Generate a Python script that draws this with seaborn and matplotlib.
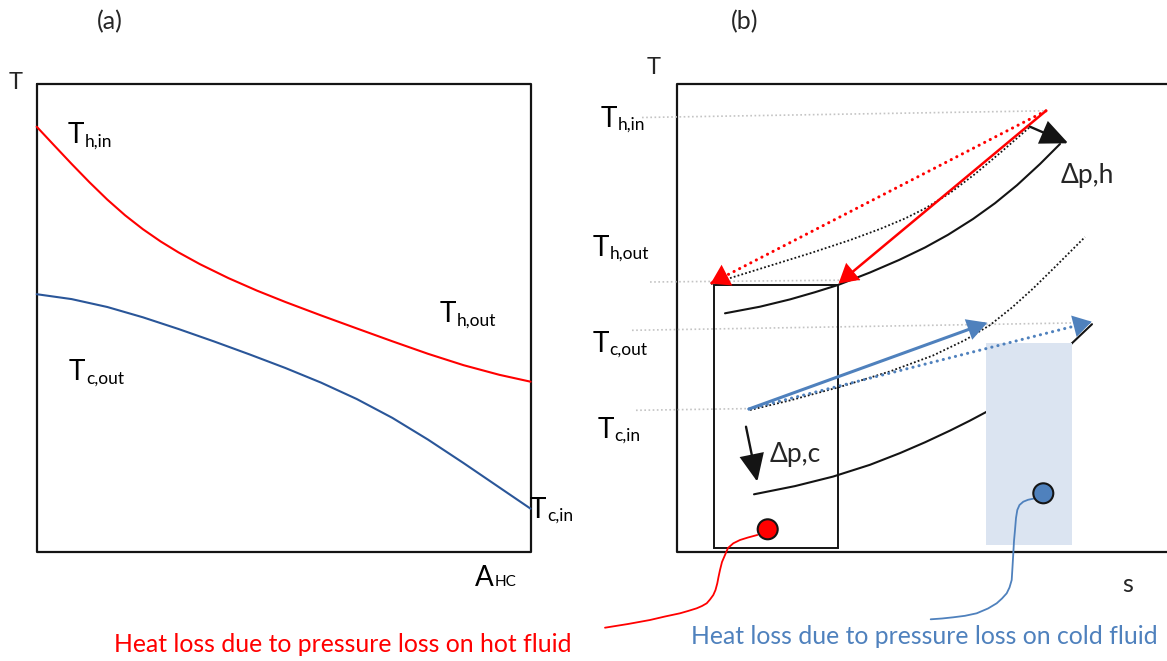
import matplotlib
matplotlib.use("Agg")
import matplotlib.pyplot as plt
from matplotlib.patches import Rectangle, Circle
import numpy as np
import pandas as pd
import seaborn as sns

W, H = 1167, 661

# ---------------- panel (a): T over heat-exchanger area ----------------
FRAME_A_X = [36.7, 530.7, 530.7, 36.7, 36.7]
FRAME_A_Y = [83.5, 83.5, 551.5, 551.5, 83.5]

HOT_A_X = [36.7, 53.8, 71.6, 89.4, 107.3, 125.1, 142.9, 160.7, 178.5, 200.0,
           228.4, 256.9, 285.4, 321.0, 356.7, 392.4, 428.0, 463.6, 499.3, 530.6]
HOT_A_Y = [126.7, 145.0, 163.9, 182.2, 199.6, 215.3, 229.2, 241.5, 252.4, 264.2,
           278.1, 290.6, 302.0, 315.4, 328.4, 341.3, 353.8, 365.2, 374.8, 381.7]

COLD_A_X = [36.7, 71.6, 107.3, 142.9, 178.5, 214.2, 249.8, 285.4, 321.0, 356.7,
            392.4, 428.0, 463.6, 499.3, 530.6]
COLD_A_Y = [294.2, 299.1, 307.0, 317.3, 329.0, 341.5, 354.5, 368.0, 382.6, 399.0,
            417.9, 439.6, 463.1, 487.4, 508.7]

# ---------------- panel (b): T-s diagram ----------------
FRAME_B_X = [1167, 677, 677, 1167]
FRAME_B_Y = [83.5, 83.5, 551.5, 551.5]

# grey guide lines from the temperature labels
GUIDE_TH_IN_X, GUIDE_TH_IN_Y = [642, 1046], [117.5, 110.8]
GUIDE_TH_OUT_X, GUIDE_TH_OUT_Y = [650, 860], [282.0, 280.0]
GUIDE_TC_OUT_X, GUIDE_TC_OUT_Y = [632, 1088], [330.3, 322.7]
GUIDE_TC_IN_X, GUIDE_TC_IN_Y = [636, 748], [410.3, 408.6]

# hot side: isobar with pressure loss (solid) and ideal isobar (dotted)
HOT_REAL_X = [725, 760, 790, 815, 838, 870, 899, 925, 948, 973, 995, 1017, 1040, 1060]
HOT_REAL_Y = [313.3, 306.7, 299.4, 292.2, 285.0, 272.5, 260.0, 247.5, 234.8, 219.0,
              203.2, 185.2, 164.0, 144.0]
HOT_IDEAL_X = [711, 760, 810, 850, 880, 905, 925, 950, 975, 1000, 1030]
HOT_IDEAL_Y = [284.0, 268.8, 253.3, 240.1, 229.0, 218.5, 208.5, 193.0, 174.0, 153.0, 126.9]

# cold side: isobar with pressure loss (solid) and ideal isobar (dotted)
COLD_REAL_X = [754, 795, 833, 870, 900, 925, 950, 970, 986, 1010, 1035, 1055, 1070, 1092]
COLD_REAL_Y = [494.3, 486.1, 476.6, 464.8, 453.1, 442.3, 430.6, 420.6, 412.1, 396.5,
               376.5, 358.9, 345.1, 324.2]
COLD_IDEAL_X = [750, 790, 840, 890, 933, 965, 990, 1012, 1033, 1055, 1070, 1085]
COLD_IDEAL_Y = [410.0, 400.4, 386.9, 371.4, 355.5, 340.1, 325.1, 307.5, 288.6, 267.0,
                252.0, 237.0]

# process arrows: (start, tip)
HOT_INLET = (1046, 110.8)
HOT_OUT_IDEAL = (710.7, 283.5)
HOT_OUT_REAL = (838.6, 283.5)
COLD_INLET = (749, 409.0)
COLD_OUT_IDEAL = (987.3, 322.7)
COLD_OUT_REAL = (1091.7, 321.7)
DP_H = ((1030, 126.7), (1068.3, 143.3))
DP_C = ((746, 426.7), (757.3, 481.7))

# loss areas
HOT_LOSS_BOX = (714, 285.0, 837.7, 547.7)
COLD_LOSS_BOX = (986, 342.7, 1072.3, 545.0)
HOT_MARK = (767.7, 529.3)
COLD_MARK = (1043.3, 493.3)
MARK_R = 10

HOT_LEADER_X = [757.3, 748, 740, 733.3, 728, 725, 722, 720, 718.5, 717.3, 715.5, 713.3,
                710, 706.7, 702, 696.7, 688, 680, 665, 650, 628, 605]
HOT_LEADER_Y = [535, 537.5, 540, 543.3, 548, 555, 562, 570, 577, 583.3, 590, 595,
                599.5, 603.3, 606, 608.3, 611, 613.3, 616.5, 620, 624, 627.7]
COLD_LEADER_X = [1035, 1028, 1023.3, 1019.5, 1017.3, 1016, 1015, 1014, 1013.3, 1012.5,
                 1011.7, 1009.5, 1006.7, 1002, 996.7, 988, 976.7, 965, 953.3, 942, 930.7]
COLD_LEADER_Y = [498.3, 499.8, 501.7, 505, 510, 518, 530, 541, 553.3, 567, 580, 587.5,
                 593.3, 598.5, 603.3, 608.5, 613.3, 615.8, 617.3, 618.5, 619.3]

HOT_NOTE = "Heat loss due to pressure loss on hot fluid"
COLD_NOTE = "Heat loss due to pressure loss on cold fluid"

RED = "#ff0000"
DARK_BLUE = "#2a5699"
BLUE = "#4f81bd"
PALE_BLUE = "#dbe4f1"
GREY = "#c4c4c4"
INK = "#141414"

sns.set_theme(style="white")
plt.rcParams["font.family"] = ["Lato", "DejaVu Sans"]

fig = plt.figure(figsize=(W / 100, H / 100), dpi=100)
ax = fig.add_axes([0, 0, 1, 1])


def line(xs, ys, **kw):
    df = pd.DataFrame({"x": xs, "y": ys})
    sns.lineplot(data=df, x="x", y="y", sort=False, estimator=None, ax=ax, **kw)


def arrow(start, tip, color, lw, hl=0.5, hw=0.3, ms=20, z=4):
    ax.annotate("", xy=tip, xytext=start, zorder=z,
                arrowprops=dict(arrowstyle=f"-|>,head_length={hl},head_width={hw}",
                                color=color, lw=lw, joinstyle="miter",
                                shrinkA=0, shrinkB=0, mutation_scale=ms))


def dotted_arrow(start, tip, color, lw, hl=0.5, hw=0.3, ms=20, z=4):
    # dotted shaft with a solid head
    line([start[0], tip[0]], [start[1], tip[1]], color=color, lw=lw,
         linestyle=(0, (0.05, 2.0)), dash_capstyle="round", zorder=z)
    d = np.subtract(tip, start)
    back = np.subtract(tip, d / np.hypot(*d) * 6)
    arrow(tuple(back), tip, color, lw, hl=hl, hw=hw, ms=ms, z=z)


FINE_DOT = (0, (1, 1.2))

# frames
line(FRAME_A_X, FRAME_A_Y, color=INK, lw=1.6)
line(FRAME_B_X, FRAME_B_Y, color=INK, lw=1.6)

# panel (a) curves
line(HOT_A_X, HOT_A_Y, color=RED, lw=1.5)
line(COLD_A_X, COLD_A_Y, color=DARK_BLUE, lw=1.5)

# panel (b) guides
for gx, gy in [(GUIDE_TH_IN_X, GUIDE_TH_IN_Y), (GUIDE_TH_OUT_X, GUIDE_TH_OUT_Y),
               (GUIDE_TC_OUT_X, GUIDE_TC_OUT_Y), (GUIDE_TC_IN_X, GUIDE_TC_IN_Y)]:
    line(gx, gy, color=GREY, lw=1.2, linestyle=(0, (1, 1.5)))

# isobars
line(HOT_IDEAL_X, HOT_IDEAL_Y, color=INK, lw=1.3, linestyle=FINE_DOT)
line(COLD_IDEAL_X, COLD_IDEAL_Y, color=INK, lw=1.3, linestyle=FINE_DOT)
line(HOT_REAL_X, HOT_REAL_Y, color=INK, lw=1.5)
line(COLD_REAL_X, COLD_REAL_Y, color=INK, lw=1.5)

# loss boxes
x0, y0, x1, y1 = COLD_LOSS_BOX
ax.add_patch(Rectangle((x0, y0), x1 - x0, y1 - y0, facecolor=PALE_BLUE,
                       edgecolor="none", zorder=3))
x0, y0, x1, y1 = HOT_LOSS_BOX
ax.add_patch(Rectangle((x0, y0), x1 - x0, y1 - y0, facecolor="none",
                       edgecolor=INK, lw=1.4, zorder=3))

# process arrows
dotted_arrow(HOT_INLET, HOT_OUT_IDEAL, RED, 2.2, hl=0.5, hw=0.32)
arrow(HOT_INLET, HOT_OUT_REAL, RED, 1.8, hl=0.55, hw=0.32)
arrow(COLD_INLET, COLD_OUT_IDEAL, BLUE, 2.2, hl=0.55, hw=0.3)
dotted_arrow(COLD_INLET, COLD_OUT_REAL, BLUE, 2.2, hl=0.5, hw=0.3)
arrow(DP_H[0], DP_H[1], INK, 1.7, hl=0.85, hw=0.38)
arrow(DP_C[0], DP_C[1], INK, 1.7, hl=0.85, hw=0.38)

# loss markers and leaders
line(HOT_LEADER_X, HOT_LEADER_Y, color=RED, lw=1.3, zorder=5)
line(COLD_LEADER_X, COLD_LEADER_Y, color=BLUE, lw=1.3, zorder=5)
ax.add_patch(Circle(HOT_MARK, MARK_R, facecolor=RED, edgecolor=INK, lw=1.5, zorder=6))
ax.add_patch(Circle(COLD_MARK, MARK_R, facecolor=BLUE, edgecolor=INK, lw=1.5, zorder=6))

ax.set_xlim(0, W)
ax.set_ylim(H, 0)
ax.set_aspect("auto")
ax.axis("off")

renderer = fig.canvas.get_renderer()


def sub_label(x, y, main, sub, size=20, sub_size=12.5, drop=3.0, gap=0.5, color="black"):
    t = ax.text(x, y, main, fontsize=size, va="baseline", ha="left", color=color)
    bb = t.get_window_extent(renderer)
    xr = ax.transData.inverted().transform((bb.x1, bb.y0))[0]
    ax.text(xr + gap, y + drop, sub, fontsize=sub_size, va="baseline", ha="left", color=color)


# panel titles and axis names
ax.text(110, 22, "(a)", fontsize=18, ha="center", va="center")
ax.text(745, 22, "(b)", fontsize=18, ha="center", va="center")
ax.text(15.5, 82.5, "T", fontsize=17, ha="center", va="center")
ax.text(654, 67, "T", fontsize=17, ha="center", va="center")
sub_label(475, 586, "A", "HC", size=20, sub_size=11, drop=0.5)
ax.text(1128, 585, "s", fontsize=18, ha="center", va="center")

# panel (a) labels
sub_label(68, 143.3, "T", "h,in")
sub_label(440, 322.3, "T", "h,out")
sub_label(69, 380.2, "T", "c,out")
sub_label(530, 517.7, "T", "c,in")

# panel (b) labels
sub_label(601, 126.7, "T", "h,in")
sub_label(592.7, 255.7, "T", "h,out")
sub_label(592.7, 351.9, "T", "c,out")
sub_label(597.2, 437.7, "T", "c,in")
ax.text(1060.7, 183.3, "Δp,h", fontsize=19, va="baseline", ha="left")
ax.text(769.3, 461.7, "Δp,c", fontsize=19, va="baseline", ha="left")

# notes
ax.text(343, 645, HOT_NOTE, fontsize=17.8, color=RED, ha="center", va="center")
ax.text(924, 636, COLD_NOTE, fontsize=17.8, color=BLUE, ha="center", va="center")

fig.savefig("out.png", dpi=100, facecolor="white")
